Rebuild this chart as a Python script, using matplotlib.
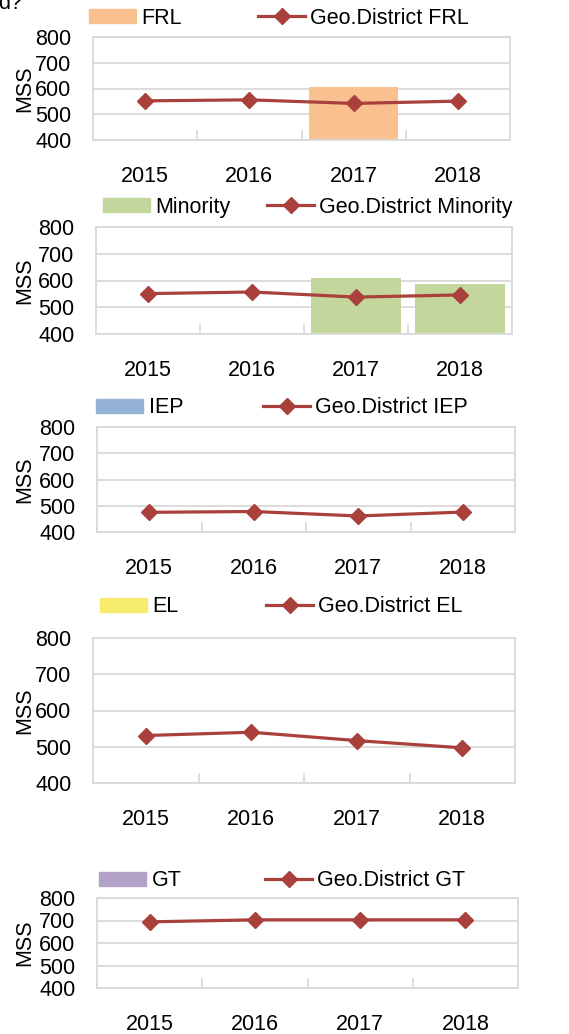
import numpy as np
import matplotlib
matplotlib.use('Agg')
import matplotlib.pyplot as plt
from matplotlib.patches import Patch
from matplotlib.lines import Line2D

plt.rcParams['font.family'] = ['Liberation Sans Narrow', 'Liberation Sans', 'DejaVu Sans']

# ---------------------------------------------------------------- #
# data: school bars (nan = no value) and geo-district lines
# ---------------------------------------------------------------- #
years = ['2015', '2016', '2017', '2018']
groups = ['FRL', 'Minority', 'IEP', 'EL', 'GT']

frl_school = [np.nan, np.nan, 605, np.nan]
frl_district = [552, 556, 542, 551]
minority_school = [np.nan, np.nan, 610, 586]
minority_district = [551, 557, 538, 546]
iep_school = [np.nan, np.nan, np.nan, np.nan]
iep_district = [475, 478, 461, 476]
el_school = [np.nan, np.nan, np.nan, np.nan]
el_district = [531, 540, 517, 497]
gt_school = [np.nan, np.nan, np.nan, np.nan]
gt_district = [694, 703, 703, 703]

school = [frl_school, minority_school, iep_school, el_school, gt_school]
district = [frl_district, minority_district, iep_district, el_district, gt_district]
yticks = [400, 500, 600, 700, 800]

bar_colors = ['#fac08f', '#c3d69b', '#95b3d7', '#f7ec6e', '#b3a2c7']
line_color = '#a9403c'
grid_color = '#d9d9d9'

W, H = 569, 1034
# axes boxes in pixels: left, top, right, bottom
boxes = [(93, 37, 510, 140),
         (96, 227, 512, 334),
         (97, 427, 515, 532),
         (93, 638, 515, 783),
         (97, 898, 518, 988)]
# legend rows: patch x, line x, y centre
legend_pos = [(89, 258, 18),
              (103, 267, 207),
              (96, 263, 408),
              (100, 266, 607),
              (99, 265, 881)]

fs = 15.5

fig = plt.figure(figsize=(W / 100, H / 100), dpi=100)
fig.text(-0.004, 1 - 9 / H, 'd?', fontsize=fs, va='baseline', ha='left')

x = np.arange(len(years))
for i in range(len(groups)):
    l, t, r, b = boxes[i]
    ax = fig.add_axes([l / W, 1 - b / H, (r - l) / W, (b - t) / H])
    ax.bar(x, school[i], width=0.86, color=bar_colors[i], zorder=2)
    ax.plot(x, district[i], '-D', color=line_color, lw=2.3, ms=8.5, zorder=3)
    ax.set_xlim(-0.5, 3.5)
    ax.set_ylim(400, 800)
    ax.set_yticks(yticks)
    ax.set_xticks(x)
    ax.set_xticklabels(years)
    ax.set_xticks([0.5, 1.5, 2.5], minor=True)
    ax.tick_params(axis='x', which='major', length=0, pad=19, labelsize=fs)
    ax.tick_params(axis='x', which='minor', direction='in', length=7,
                   width=1.2, color=grid_color)
    ax.tick_params(axis='y', length=0, pad=15.5, labelsize=fs)
    ax.grid(axis='y', color=grid_color, lw=1.3, zorder=0)
    ax.set_axisbelow(True)
    for s in ax.spines.values():
        s.set_color(grid_color)
        s.set_linewidth(1.3)
    ax.set_ylabel('MSS', fontsize=fs)
    ax.yaxis.set_label_coords(-(l - 35) / (r - l), 0.5)

    px, lx, ly = legend_pos[i]
    h1 = Patch(color=bar_colors[i])
    h2 = Line2D([], [], color=line_color, lw=2.3, marker='D', ms=8.5)
    leg1 = ax.legend([h1], [groups[i]], loc='center left',
                     bbox_to_anchor=(px / W, 1 - ly / H),
                     bbox_transform=fig.transFigure, frameon=False,
                     fontsize=fs, borderpad=0, borderaxespad=0,
                     handlelength=2.2, handleheight=0.6, handletextpad=0.25)
    ax.add_artist(leg1)
    ax.legend([h2], ['Geo.District ' + groups[i]], loc='center left',
              bbox_to_anchor=(lx / W, 1 - ly / H),
              bbox_transform=fig.transFigure, frameon=False,
              fontsize=fs, borderpad=0, borderaxespad=0,
              handlelength=2.2, handletextpad=0.2, numpoints=1)

plt.savefig('out.png', dpi=100)
